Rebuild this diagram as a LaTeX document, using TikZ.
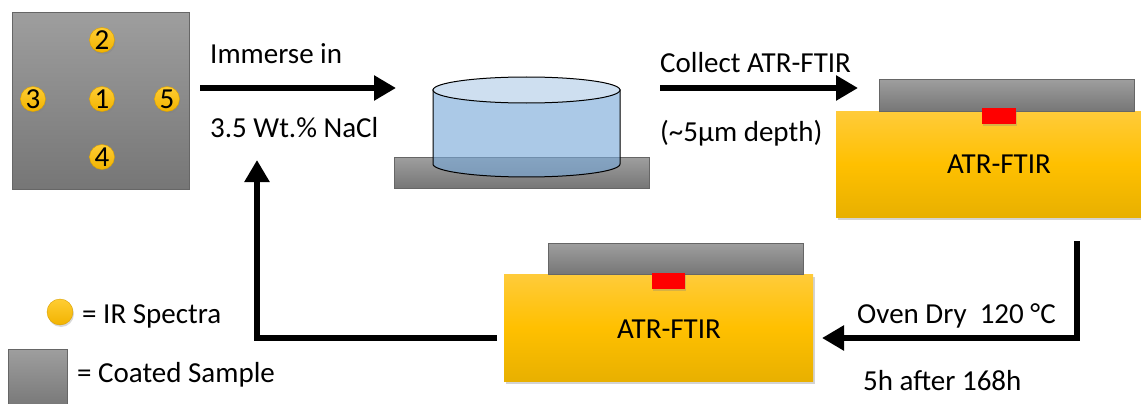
\documentclass[tikz,border=0pt]{standalone}
\usepackage{fontspec}
\setmainfont{Carlito}
\usetikzlibrary{arrows.meta,shadows}

\definecolor{grayTop}{HTML}{9E9E9E}
\definecolor{grayBot}{HTML}{767676}
\definecolor{ylTop}{HTML}{FFCB3A}
\definecolor{ylMid}{HTML}{FFC000}
\definecolor{ylBot}{HTML}{E8B000}
\definecolor{spotTop}{HTML}{FFCD33}
\definecolor{spotBot}{HTML}{F2B300}
\definecolor{spotEdge}{HTML}{D9A000}
\definecolor{water}{HTML}{77A8D8}
\definecolor{waterTop}{HTML}{CEDFF0}

\begin{document}
\begin{tikzpicture}[x=1pt,y=-1pt,
  lbl/.style={font=\fontsize{29}{33}\selectfont, inner sep=0pt},
  plate/.style={draw=black!60, line width=0.8pt, top color=grayTop, bottom color=grayBot, inner sep=0pt},
  instr/.style={top color=ylTop, bottom color=ylBot, middle color=ylMid, draw=none, inner sep=0pt,
    drop shadow={opacity=0.35, shadow xshift=1.5pt, shadow yshift=-3pt}},
  probe/.style={fill=red, draw=none, inner sep=0pt,
    drop shadow={opacity=0.3, shadow xshift=1pt, shadow yshift=-2pt}},
  spot/.style={circle, minimum size=25pt, inner sep=0pt, top color=spotTop, bottom color=spotBot,
    draw=spotEdge, line width=0.4pt, font=\fontsize{29}{29}\selectfont,
    drop shadow={opacity=0.3, shadow xshift=1pt, shadow yshift=-2pt}},
  arr/.style={line width=6pt, -{Triangle[length=22pt,width=24pt]}},
]
\useasboundingbox (0,0) rectangle (1141,404);

% coated sample with measurement spots
\node[plate, minimum width=177pt, minimum height=177pt, anchor=north west] (sample) at (12,12) {};
\node[spot] (s2) at (102,40) {2};
\node[spot] (s3) at (33,99) {3};
\node[spot] (s1) at (102,99) {1};
\node[spot] (s5) at (167,99) {5};
\node[spot] (s4) at (102,157) {4};

% immersion step
\coordinate (a1s) at (200,88);
\coordinate (a1e) at (396,88);
\draw[arr] (a1s) -- (a1e);
\node[lbl, anchor=base west] (immerse) at (210,64) {Immerse in};
\node[lbl, anchor=base west] (nacl) at (210,137) {3.5 Wt.\% NaCl};

% beaker of salt solution on the sample
\node[plate, minimum width=255pt, minimum height=31pt, anchor=north west] (bplate) at (394,157) {};
\path[fill=water, fill opacity=0.62, draw=black, line width=1pt]
  (620,90) -- (620,164) -- plot[domain=0:180, samples=60] ({526.5+93.5*cos(\x)},{164+13*sin(\x)}) -- (433,90) -- cycle;
\draw[fill=waterTop, line width=1pt] (526.5,90) ellipse [x radius=93.5, y radius=13];
\coordinate (beaker) at (526.5,127);

% measurement step
\coordinate (a2s) at (660,88);
\coordinate (a2e) at (858,88);
\draw[arr] (a2s) -- (a2e);
\node[lbl, anchor=base west] (collect) at (660,73) {Collect ATR-FTIR};
\node[lbl, anchor=base west] (depth) at (660,141) {(\textasciitilde5µm depth)};

% ATR-FTIR instrument, upper
\node[instr, minimum width=310pt, minimum height=106pt, anchor=north west] (ftirA) at (836,111) {};
\node[plate, minimum width=255pt, minimum height=32pt, anchor=north west] (plateA) at (879,79) {};
\node[probe, minimum width=34pt, minimum height=16pt, anchor=north west] (probeA) at (982,108) {};
\node[lbl, anchor=base] (ftirAtxt) at (999,173) {ATR-FTIR};

% oven drying step
\coordinate (a3s) at (1077,241);
\coordinate (a3c) at (1077,338);
\coordinate (a3e) at (822,338);
\draw[arr] (a3s) -- (a3c) -- (a3e);
\node[lbl, anchor=base west] (oven) at (857,323) {Oven Dry~~120 °C};
\node[lbl, anchor=base west] (hours) at (863,390) {5h after 168h};

% ATR-FTIR instrument, lower
\node[instr, minimum width=309pt, minimum height=107pt, anchor=north west] (ftirB) at (504,274) {};
\node[plate, minimum width=255pt, minimum height=31pt, anchor=north west] (plateB) at (548,243) {};
\node[probe, minimum width=33pt, minimum height=16pt, anchor=north west] (probeB) at (652,273) {};
\node[lbl, anchor=base] (ftirBtxt) at (669,338) {ATR-FTIR};

% return to immersion
\coordinate (a4s) at (497,338);
\coordinate (a4c) at (257,338);
\coordinate (a4e) at (257,160);
\draw[arr] (a4s) -- (a4c) -- (a4e);

% legend
\node[spot, minimum size=26pt] (legspot) at (60,312) {};
\node[lbl, anchor=base west] (legspottxt) at (82,323) {= IR Spectra};
\node[plate, minimum width=59pt, minimum height=60pt, anchor=north west] (legplate) at (8,349) {};
\node[lbl, anchor=base west] (legplatetxt) at (77,382) {= Coated Sample};
\end{tikzpicture}
\end{document}
